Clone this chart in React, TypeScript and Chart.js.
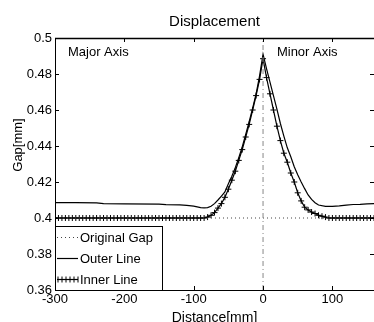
import React, { useEffect, useRef } from 'react';
import { Chart, registerables } from 'chart.js';
Chart.register(...registerables);

const FONT = '"Liberation Sans", Arial, sans-serif';

const xTicks = [-300, -200, -100, 0, 100];
const yTicks = [0.36, 0.38, 0.4, 0.42, 0.44, 0.46, 0.48, 0.5];

const originalGapX = [-300, 160];
const originalGapY = [0.4, 0.4];

const centerLineX = [0, 0];
const centerLineY = [0.36, 0.5];

const outerX = [-300, -270, -240, -230, -200, -150, -140, -120, -110, -100, -90, -85, -80, -75, -70, -65, -60, -55, -50, -45, -40, -35, -30, -25, -20, -15, -10, -5, 0, 5, 10, 15, 20, 25, 30, 35, 40, 45, 50, 55, 60, 65, 70, 75, 80, 90, 100, 110, 120, 130, 140, 150, 160];
const outerY = [0.4085, 0.4085, 0.4084, 0.408, 0.4079, 0.4077, 0.4074, 0.4073, 0.407, 0.4066, 0.4058, 0.4056, 0.4058, 0.4065, 0.408, 0.41, 0.4122, 0.4145, 0.419, 0.4232, 0.428, 0.4335, 0.4395, 0.4465, 0.4535, 0.461, 0.469, 0.479, 0.491, 0.483, 0.4755, 0.468, 0.4605, 0.4525, 0.4455, 0.439, 0.434, 0.4285, 0.424, 0.42, 0.4163, 0.4128, 0.4103, 0.4085, 0.4072, 0.4065, 0.4065, 0.4067, 0.4072, 0.4075, 0.4076, 0.4078, 0.408];

const innerX = [-300, -295, -290, -285, -280, -275, -270, -265, -260, -255, -250, -245, -240, -235, -230, -225, -220, -215, -210, -205, -200, -195, -190, -185, -180, -175, -170, -165, -160, -155, -150, -145, -140, -135, -130, -125, -120, -115, -110, -105, -100, -95, -90, -85, -80, -75, -70, -65, -60, -55, -50, -45, -40, -35, -30, -25, -20, -15, -10, -5, 0, 5, 10, 15, 20, 25, 30, 35, 40, 45, 50, 55, 60, 65, 70, 75, 80, 85, 90, 95, 100, 105, 110, 115, 120, 125, 130, 135, 140, 145, 150, 155, 160];
const innerY = [0.4, 0.4, 0.4, 0.4, 0.4, 0.4, 0.4, 0.4, 0.4, 0.4, 0.4, 0.4, 0.4, 0.4, 0.4, 0.4, 0.4, 0.4, 0.4, 0.4, 0.4, 0.4, 0.4, 0.4, 0.4, 0.4, 0.4, 0.4, 0.4, 0.4, 0.4, 0.4, 0.4, 0.4, 0.4, 0.4, 0.4, 0.4, 0.4, 0.4, 0.4, 0.4, 0.4, 0.4,
  0.4005, 0.4015, 0.403, 0.4055, 0.408, 0.4115, 0.416, 0.421, 0.426, 0.432, 0.438, 0.445, 0.452, 0.46, 0.468, 0.477, 0.4885,
  0.478, 0.469, 0.46, 0.451, 0.443, 0.436, 0.431, 0.425, 0.42, 0.414, 0.4095, 0.406, 0.4045, 0.4033, 0.4025, 0.4015, 0.401, 0.4005,
  0.4, 0.4, 0.4, 0.4, 0.4, 0.4, 0.4, 0.4, 0.4, 0.4, 0.4, 0.4, 0.4, 0.4];

const legendLabels = ['Original Gap', 'Outer Line', 'Inner Line'];
const titleText = 'Displacement';
const xTitle = 'Distance[mm]';
const yTitle = 'Gap[mm]';
const noteLeft = 'Major Axis';
const noteRight = 'Minor Axis';

const pts = (xs: number[], ys: number[]) => xs.map((x, i) => ({ x, y: ys[i] }));

const decor = {
  id: 'decor',
  afterDraw(chart: any) {
    const { ctx, chartArea: a, scales } = chart;
    const xs = scales.x, ys = scales.y;
    ctx.save();
    // box (right edge lies just beyond the picture)
    ctx.strokeStyle = '#000';
    ctx.lineWidth = 1;
    ctx.beginPath();
    ctx.moveTo(a.left + 0.5, a.top);
    ctx.lineTo(a.left + 0.5, a.bottom + 0.5);
    ctx.lineTo(a.right, a.bottom + 0.5);
    ctx.stroke();
    ctx.lineWidth = 1.6;
    ctx.beginPath();
    ctx.moveTo(a.left, a.top + 0.5);
    ctx.lineTo(a.right, a.top + 0.5);
    ctx.stroke();
    ctx.lineWidth = 1;
    // inward ticks
    const L = 4;
    ctx.beginPath();
    xTicks.forEach((v) => {
      const px = Math.round(xs.getPixelForValue(v)) + 0.5;
      ctx.moveTo(px, a.bottom); ctx.lineTo(px, a.bottom - L);
      ctx.moveTo(px, a.top); ctx.lineTo(px, a.top + L);
    });
    yTicks.forEach((v) => {
      const py = Math.round(ys.getPixelForValue(v)) + 0.5;
      ctx.moveTo(a.left, py); ctx.lineTo(a.left + L, py);
      ctx.moveTo(a.right, py); ctx.lineTo(a.right - L, py);
    });
    ctx.stroke();

    // legend
    const lx = a.left, lr = a.left + 107, lt = a.bottom - 64, lb = a.bottom;
    ctx.fillStyle = '#fff';
    ctx.fillRect(lx, lt, lr - lx, lb - lt);
    ctx.strokeStyle = '#000';
    ctx.strokeRect(lx + 0.5, lt + 0.5, lr - lx, lb - lt);
    const rows = [lt + 11, lt + 32, lt + 53];
    const s0 = lx + 2, s1 = lx + 23;
    ctx.setLineDash([1, 3]);
    ctx.strokeStyle = '#444';
    ctx.beginPath(); ctx.moveTo(s0, rows[0] + 0.5); ctx.lineTo(s1, rows[0] + 0.5); ctx.stroke();
    ctx.setLineDash([]);
    ctx.strokeStyle = '#000';
    ctx.lineWidth = 1.2;
    ctx.beginPath(); ctx.moveTo(s0, rows[1] + 0.5); ctx.lineTo(s1, rows[1] + 0.5); ctx.stroke();
    ctx.beginPath(); ctx.moveTo(s0, rows[2] + 0.5); ctx.lineTo(s1, rows[2] + 0.5); ctx.stroke();
    ctx.lineWidth = 1;
    ctx.beginPath();
    for (let k = s0 + 1; k <= s1; k += 4) {
      ctx.moveTo(k, rows[2] - 2.5); ctx.lineTo(k, rows[2] + 3.5);
    }
    ctx.stroke();
    ctx.fillStyle = '#000';
    ctx.font = `13px ${FONT}`;
    ctx.textBaseline = 'middle';
    ctx.textAlign = 'left';
    legendLabels.forEach((t, i) => ctx.fillText(t, s1 + 2, rows[i] + 1));

    // notes
    ctx.font = `13px ${FONT}`;
    ctx.fillText(noteLeft, a.left + 13, 52);
    ctx.fillText(noteRight, xs.getPixelForValue(20), 52);

    // title
    ctx.font = `15px ${FONT}`;
    ctx.textAlign = 'center';
    ctx.fillText(titleText, (a.left + a.right) / 2, 22);

    // y title
    ctx.translate(18, 145);
    ctx.rotate(-Math.PI / 2);
    ctx.font = `13px ${FONT}`;
    ctx.fillText(yTitle, 0, 0);
    ctx.restore();
  },
};

export default function App() {
  const ref = useRef<HTMLCanvasElement>(null);
  useEffect(() => {
    document.body.style.margin = '0';
    const chart = new Chart(ref.current!, {
      type: 'line',
      data: {
        datasets: [
          {
            label: 'center',
            data: pts(centerLineX, centerLineY),
            borderColor: '#888',
            borderWidth: 1,
            borderDash: [5, 3, 1, 3],
            pointRadius: 0,
          },
          {
            label: legendLabels[0],
            data: pts(originalGapX, originalGapY),
            borderColor: '#444',
            borderWidth: 1,
            borderDash: [1, 3],
            pointRadius: 0,
          },
          {
            label: legendLabels[1],
            data: pts(outerX, outerY),
            borderColor: '#000',
            borderWidth: 1.2,
            pointRadius: 0,
            tension: 0,
          },
          {
            label: legendLabels[2],
            data: pts(innerX, innerY),
            borderColor: '#000',
            borderWidth: 1.2,
            pointStyle: 'cross',
            pointRadius: 3,
            pointBorderWidth: 1,
            pointBorderColor: '#000',
            tension: 0,
          },
        ],
      },
      options: {
        responsive: false,
        animation: false,
        events: [],
        layout: { autoPadding: false, padding: { top: 38, left: 0, right: 0, bottom: 0 } },
        plugins: { legend: { display: false }, title: { display: false }, tooltip: { enabled: false } },
        scales: {
          x: {
            type: 'linear',
            min: -300,
            max: 160,
            grid: { display: false, drawTicks: false },
            border: { display: false },
            ticks: {
              stepSize: 100,
              includeBounds: false,
              maxRotation: 0,
              autoSkip: false,
              padding: 2,
              color: '#000',
              font: { family: FONT, size: 13 },
            },
            title: { display: true, text: xTitle, color: '#000', padding: { top: 0, bottom: -2 }, font: { family: FONT, size: 14, lineHeight: 0.8 } },
            afterFit: (s: any) => { s.height = 32; s.paddingLeft = 0; s.paddingRight = 0; },
          },
          y: {
            min: 0.36,
            max: 0.5,
            grid: { display: false, drawTicks: false },
            border: { display: false },
            ticks: {
              stepSize: 0.02,
              padding: 3,
              color: '#000',
              font: { family: FONT, size: 13 },
              callback: (v: any) => String(Number(Number(v).toFixed(2))),
            },
            afterFit: (s: any) => { s.width = 55; },
          },
        },
      },
      plugins: [decor],
    } as any);
    return () => chart.destroy();
  }, []);
  return (
    <div style={{ width: 374, height: 322 }}>
      <canvas ref={ref} width={374} height={322} />
    </div>
  );
}
